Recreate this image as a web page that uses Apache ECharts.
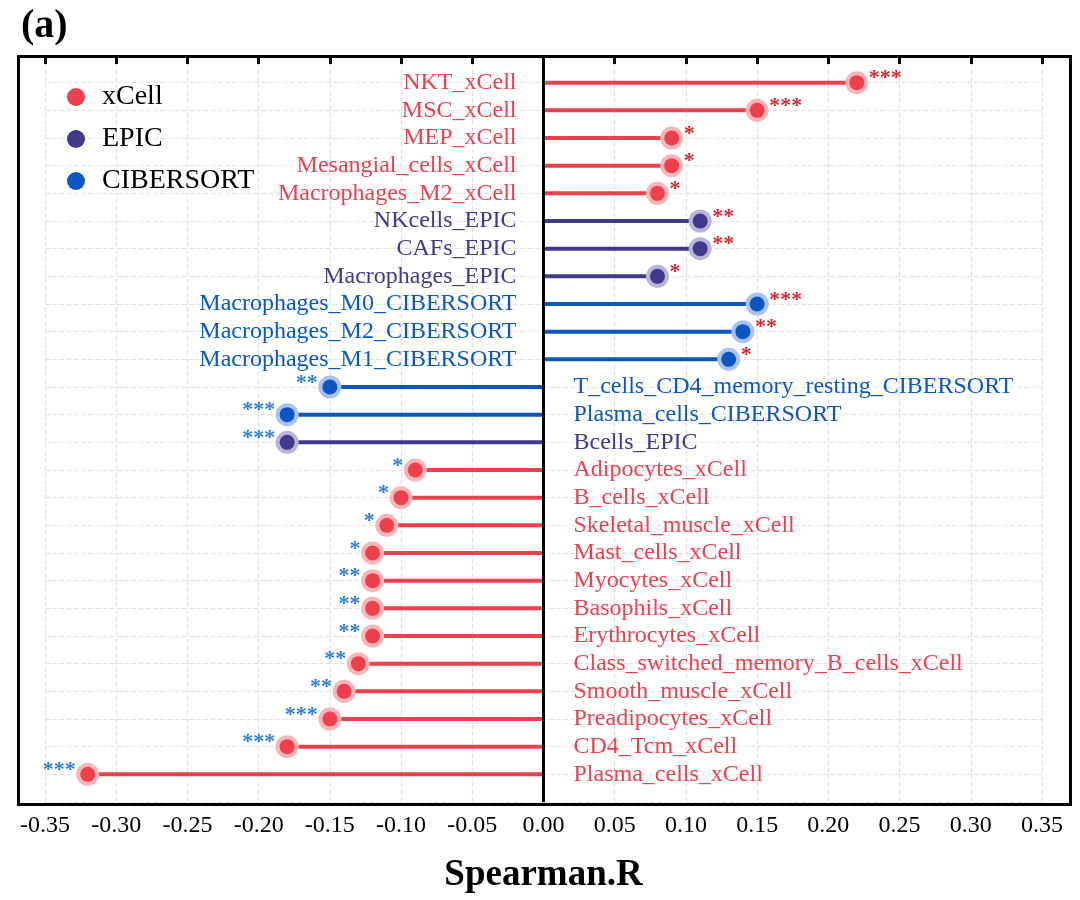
<!DOCTYPE html>
<html><head><meta charset="utf-8">
<script src="https://cdn.jsdelivr.net/npm/echarts@6/dist/echarts.min.js"></script>
<style>html,body{margin:0;background:#fff}#c{width:1080px;height:900px}</style>
</head><body><div id="c"></div>
<script>
// 数据
const cellNames = ['NKT_xCell','MSC_xCell','MEP_xCell','Mesangial_cells_xCell','Macrophages_M2_xCell',
  'NKcells_EPIC','CAFs_EPIC','Macrophages_EPIC',
  'Macrophages_M0_CIBERSORT','Macrophages_M2_CIBERSORT','Macrophages_M1_CIBERSORT',
  'T_cells_CD4_memory_resting_CIBERSORT','Plasma_cells_CIBERSORT','Bcells_EPIC',
  'Adipocytes_xCell','B_cells_xCell','Skeletal_muscle_xCell','Mast_cells_xCell','Myocytes_xCell',
  'Basophils_xCell','Erythrocytes_xCell','Class_switched_memory_B_cells_xCell','Smooth_muscle_xCell',
  'Preadipocytes_xCell','CD4_Tcm_xCell','Plasma_cells_xCell'];
const rValues = [0.22,0.15,0.09,0.09,0.08, 0.11,0.11,0.08, 0.15,0.14,0.13,
  -0.15,-0.18,-0.18, -0.09,-0.10,-0.11,-0.12,-0.12,-0.12,-0.12,-0.13,-0.14,-0.15,-0.18,-0.32];
const stars = ['***','***','*','*','*','**','**','*','***','**','*',
  '**','***','***','*','*','*','*','**','**','**','**','**','***','***','***'];
const methods = ['xCell','EPIC','CIBERSORT'];

const colors = { xCell: '#EE3F4D', EPIC: '#413A8C', CIBERSORT: '#0A57C4' };
const halo = { xCell: '#F6B7BC', EPIC: '#B9B5D6', CIBERSORT: '#A9C3EC' };
const font = '"Liberation Serif", "Times New Roman", serif';

function methodOf(name) {
  if (name.endsWith('_xCell')) return 'xCell';
  if (name.endsWith('_EPIC')) return 'EPIC';
  return 'CIBERSORT';
}

const series = methods.map(m => {
  const data = [];
  cellNames.forEach((n, i) => {
    if (methodOf(n) === m) data.push([rValues[i], i + 1, n, stars[i]]);
  });
  return {
    name: m,
    type: 'custom',
    itemStyle: { color: colors[m] },
    data: data,
    renderItem: function (params, api) {
      const v = api.value(0), y = api.value(1);
      const p0 = api.coord([0, y]), p1 = api.coord([v, y]);
      const pos = v >= 0;
      const d = data[params.dataIndex];
      return {
        type: 'group',
        children: [
          { type: 'line', shape: { x1: p0[0], y1: p0[1], x2: p1[0], y2: p1[1] },
            style: { stroke: colors[m], lineWidth: 4 } },
          { type: 'circle', shape: { cx: p1[0], cy: p1[1], r: 11.5 }, style: { fill: halo[m] } },
          { type: 'circle', shape: { cx: p1[0], cy: p1[1], r: 7.5 }, style: { fill: colors[m] } },
          { type: 'text', x: p0[0] + (pos ? -27 : 30), y: p0[1],
            style: { text: d[2], fill: colors[m], font: '24px ' + font,
              align: pos ? 'right' : 'left', verticalAlign: 'middle' } },
          { type: 'text', x: p1[0] + (pos ? 12 : -12), y: p1[1] - 4,
            style: { text: d[3], fill: pos ? '#D12A35' : '#2F7FD6', font: 'bold 22px ' + font,
              align: pos ? 'left' : 'right', verticalAlign: 'middle' } }
        ]
      };
    }
  };
});

const chart = echarts.init(document.getElementById('c'));
chart.setOption({
  animation: false,
  title: { text: '(a)', left: 16, top: 2,
    textStyle: { fontFamily: font, fontSize: 40, fontWeight: 'bold', color: '#000' } },
  legend: {
    orient: 'vertical', left: 62, top: 78, itemGap: 14,
    icon: 'circle', itemWidth: 18, itemHeight: 18,
    data: methods,
    textStyle: { fontFamily: font, fontSize: 28, color: '#000', padding: [0, 0, 0, 12] }
  },
  graphic: [{ type: 'rect', left: 16, top: 54, z: 10, silent: true,
    shape: { width: 1052, height: 748 },
    style: { fill: 'none', stroke: '#000', lineWidth: 3 } }],
  grid: { left: 45, right: 38, top: 55, bottom: 98 },
  xAxis: {
    type: 'value', min: -0.35, max: 0.35, interval: 0.05,
    name: 'Spearman.R', nameLocation: 'middle', nameGap: 55,
    nameTextStyle: { fontFamily: font, fontSize: 37, fontWeight: 'bold', color: '#000' },
    axisLine: { show: false },
    axisTick: { show: true, length: 9, lineStyle: { color: '#000', width: 3 } },
    axisLabel: { fontFamily: font, fontSize: 24, color: '#000', margin: 12,
      formatter: v => v.toFixed(2) },
    splitLine: { show: true, lineStyle: { color: '#e2e2e2', type: 'dashed', width: 1.2 } }
  },
  yAxis: {
    type: 'value', min: 0, max: 27, interval: 1, inverse: true,
    axisLabel: { show: false }, axisTick: { show: false }, axisLine: { show: false },
    splitLine: { show: true, lineStyle: { color: '#e2e2e2', type: 'dashed', width: 1.2 } }
  },
  series: series.concat([{
    type: 'line', silent: true, data: [],
    markLine: { symbol: 'none', silent: true, label: { show: false },
      lineStyle: { color: '#000', width: 3, type: 'solid' }, data: [{ xAxis: 0 }] }
  }])
});
</script></body></html>
